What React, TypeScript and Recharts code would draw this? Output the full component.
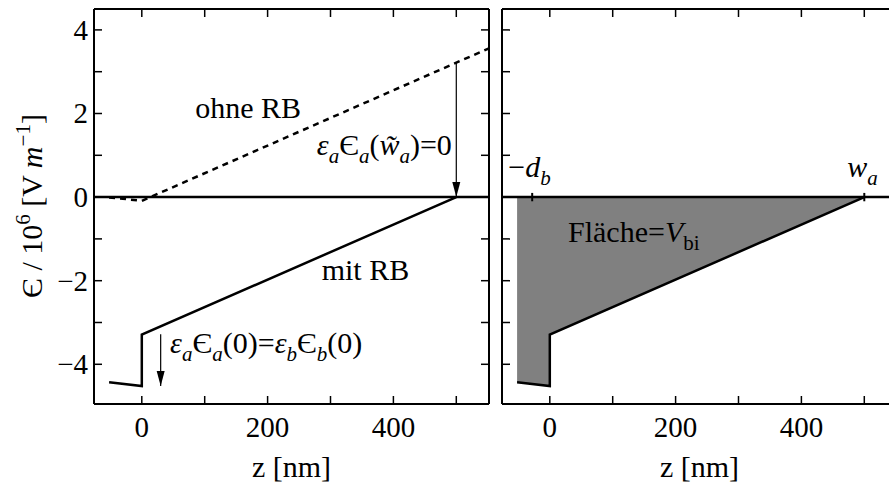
import React from 'react';
import { ComposedChart, Line, Area, XAxis, YAxis, ReferenceLine, ReferenceDot } from 'recharts';

// z in nm, field in 10^6 V/m
const ohneZ = [-52, -30, 0, 552];
const ohneE = [-0.01, -0.04, -0.09, 3.56];
const mitZ = [-52, 0, 0, 500];
const mitE = [-4.43, -4.52, -3.29, 0];

// annotation arrows
const arrowTopZ = [500, 500];
const arrowTopE = [3.23, 0];
const arrowBotZ = [30, 30];
const arrowBotE = [-3.28, -4.52];

// little tick marks on the zero line (right panel)
const dbTickZ = [-28, -28];
const dbTickE = [-0.1, 0.1];
const waTickZ = [500, 500];
const waTickE = [-0.1, 0.1];

const xTicks = [0, 100, 200, 300, 400, 500];
const xLabels = [0, 200, 400];
const yTicks = [-4, -3, -2, -1, 0, 1, 2, 3, 4];
const yLabels = [-4, -2, 0, 2, 4];

const X_DOMAIN: [number, number] = [-76, 552];
const Y_DOMAIN: [number, number] = [-4.95, 4.5];

const FONT = '"Liberation Serif", "Times New Roman", serif';

const zip = (zs: number[], es: number[]) => zs.map((z, i) => ({ z, e: es[i] }));

const ohneData = zip(ohneZ, ohneE);
const mitData = zip(mitZ, mitE);
const arrowTop = zip(arrowTopZ, arrowTopE);
const arrowBot = zip(arrowBotZ, arrowBotE);
const dbTick = zip(dbTickZ, dbTickE);
const waTick = zip(waTickZ, waTickE);

const fmt = (v: number) => (v < 0 ? `\u2212${-v}` : `${v}`);

type Seg = { t: string; it?: boolean; sub?: boolean; sup?: boolean };

const Rich = ({ x, y, segs, size, anchor = 'start', transform }: any) => {
  let shift = 0;
  const spans = (segs as Seg[]).map((s, i) => {
    const target = s.sub ? size * 0.28 : s.sup ? -size * 0.4 : 0;
    const dy = target - shift;
    shift = target;
    return (
      <tspan key={i} dy={dy} fontStyle={s.it ? 'italic' : 'normal'} fontSize={s.sub || s.sup ? size * 0.7 : size}>
        {s.t}
      </tspan>
    );
  });
  return (
    <text x={x} y={y} textAnchor={anchor} fontFamily={FONT} fontSize={size} fill="#000" transform={transform}>
      {spans}
    </text>
  );
};

const TICK = 8;

const bottomTick = (labels: boolean) => (props: any) => {
  const { x, y, payload } = props;
  return (
    <g>
      <line x1={x} y1={y} x2={x} y2={y - TICK} stroke="#000" strokeWidth={1.5} />
      {labels && xLabels.includes(payload.value) && (
        <text x={x} y={y + 33} textAnchor="middle" fontFamily={FONT} fontSize={29} fill="#000">
          {fmt(payload.value)}
        </text>
      )}
    </g>
  );
};

const topTick = (props: any) => {
  const { x, y } = props;
  return <line x1={x} y1={y} x2={x} y2={y + TICK} stroke="#000" strokeWidth={1.5} />;
};

const leftTick = (labels: boolean) => (props: any) => {
  const { x, y, payload } = props;
  return (
    <g>
      <line x1={x} y1={y} x2={x + TICK} y2={y} stroke="#000" strokeWidth={1.5} />
      {labels && yLabels.includes(payload.value) && (
        <text x={x - 6} y={y + 10} textAnchor="end" fontFamily={FONT} fontSize={29} fill="#000">
          {fmt(payload.value)}
        </text>
      )}
    </g>
  );
};

const rightTick = (props: any) => {
  const { x, y } = props;
  return <line x1={x} y1={y} x2={x - TICK} y2={y} stroke="#000" strokeWidth={1.5} />;
};

const ArrowHead = (props: any) => {
  const { cx, cy, index } = props;
  if (index !== 1) return <g key={index} />;
  return <path key={index} d={`M${cx},${cy} L${cx - 4},${cy - 15} L${cx + 4},${cy - 15} Z`} fill="#000" />;
};

const textAt = (segs: Seg[], anchor = 'start', size = 30) => (p: any) => (
  <Rich x={p.cx} y={p.cy} segs={segs} size={size} anchor={anchor} />
);

const xLabel = (p: any) => {
  const vb = p.viewBox;
  return (
    <Rich
      x={vb.x + vb.width / 2}
      y={vb.y + 73}
      anchor="middle"
      size={30}
      segs={[{ t: 'z [nm]' }]}
    />
  );
};

const yLabel = () => (
  <Rich
    x={42}
    y={206}
    anchor="middle"
    size={30}
    transform="rotate(-90 42 206)"
    segs={[{ t: 'Є / 10' }, { t: '6', sup: true }, { t: ' [V ' }, { t: 'm', it: true }, { t: '−1', sup: true }, { t: ']' }]}
  />
);

const frameAxes = (panel: 'left' | 'right') => [
  <XAxis
    key="xb"
    type="number"
    dataKey="z"
    domain={X_DOMAIN}
    ticks={xTicks}
    interval={0}
    allowDataOverflow
    height={1}
    tickSize={0}
    tickMargin={0}
    tickLine={false}
    axisLine={{ stroke: '#000', strokeWidth: 2 }}
    tick={bottomTick(true)}
    label={{ content: xLabel }}
  />,
  <XAxis
    key="xt"
    xAxisId="t"
    orientation="top"
    type="number"
    dataKey="z"
    domain={X_DOMAIN}
    ticks={xTicks}
    interval={0}
    allowDataOverflow
    height={1}
    tickSize={0}
    tickMargin={0}
    tickLine={false}
    axisLine={{ stroke: '#000', strokeWidth: 2 }}
    tick={topTick}
  />,
  <YAxis
    key="yl"
    type="number"
    domain={Y_DOMAIN}
    ticks={yTicks}
    interval={0}
    allowDataOverflow
    width={1}
    tickSize={0}
    tickMargin={0}
    tickLine={false}
    axisLine={{ stroke: '#000', strokeWidth: 2 }}
    tick={leftTick(panel === 'left')}
    label={panel === 'left' ? { content: yLabel } : undefined}
  />,
  <YAxis
    key="yr"
    yAxisId="r"
    orientation="right"
    type="number"
    domain={Y_DOMAIN}
    ticks={yTicks}
    interval={0}
    allowDataOverflow
    width={1}
    tickSize={0}
    tickMargin={0}
    tickLine={false}
    axisLine={{ stroke: '#000', strokeWidth: 2 }}
    tick={rightTick}
  />,
];

export default function App() {
  return (
    <div style={{ position: 'absolute', left: 0, top: 0, width: 889, height: 486, overflow: 'hidden', background: '#fff' }}>
      <div style={{ position: 'absolute', left: 0, top: 0 }}>
        <ComposedChart width={500} height={486} margin={{ top: 8, right: 10, bottom: 81, left: 93 }}>
          {frameAxes('left')}
          <ReferenceLine y={0} stroke="#000" strokeWidth={2.5} />
          <Line data={ohneData} dataKey="e" type="linear" stroke="#000" strokeWidth={2.5} strokeDasharray="6 5" dot={false} isAnimationActive={false} />
          <Line data={mitData} dataKey="e" type="linear" stroke="#000" strokeWidth={2.5} dot={false} isAnimationActive={false} />
          <Line data={arrowTop} dataKey="e" type="linear" stroke="#000" strokeWidth={1.2} dot={ArrowHead} isAnimationActive={false} />
          <Line data={arrowBot} dataKey="e" type="linear" stroke="#000" strokeWidth={1.2} dot={ArrowHead} isAnimationActive={false} />
          <ReferenceDot x={85} y={1.9} r={0} shape={textAt([{ t: 'ohne RB' }])} />
          <ReferenceDot
            x={493}
            y={1.01}
            r={0}
            shape={textAt(
              [{ t: 'ε', it: true }, { t: 'a', it: true, sub: true }, { t: 'Є' }, { t: 'a', it: true, sub: true }, { t: '(' }, { t: 'w\u0303', it: true }, { t: 'a', it: true, sub: true }, { t: ')=0' }],
              'end'
            )}
          />
          <ReferenceDot x={286} y={-1.98} r={0} shape={textAt([{ t: 'mit RB' }])} />
          <ReferenceDot
            x={45}
            y={-3.73}
            r={0}
            shape={textAt([
              { t: 'ε', it: true },
              { t: 'a', it: true, sub: true },
              { t: 'Є' },
              { t: 'a', it: true, sub: true },
              { t: '(0)=' },
              { t: 'ε', it: true },
              { t: 'b', it: true, sub: true },
              { t: 'Є' },
              { t: 'b', it: true, sub: true },
              { t: '(0)' },
            ])}
          />
        </ComposedChart>
      </div>
      <div style={{ position: 'absolute', left: 490, top: 0 }}>
        <ComposedChart width={420} height={486} margin={{ top: 8, right: 12, bottom: 81, left: 11 }}>
          {frameAxes('right')}
          <Area data={mitData} dataKey="e" type="linear" baseValue={0} fill="#808080" fillOpacity={1} stroke="#000" strokeWidth={2.5} isAnimationActive={false} />
          <ReferenceLine y={0} stroke="#000" strokeWidth={2.5} />
          <Line data={dbTick} dataKey="e" type="linear" stroke="#000" strokeWidth={2} dot={false} isAnimationActive={false} />
          <Line data={waTick} dataKey="e" type="linear" stroke="#000" strokeWidth={2} dot={false} isAnimationActive={false} />
          <ReferenceDot x={-66} y={0.48} r={0} shape={textAt([{ t: '−' }, { t: 'd', it: true }, { t: 'b', it: true, sub: true }])} />
          <ReferenceDot x={473} y={0.48} r={0} shape={textAt([{ t: 'w', it: true }, { t: 'a', it: true, sub: true }])} />
          <ReferenceDot x={29} y={-1.07} r={0} shape={textAt([{ t: 'Fläche=' }, { t: 'V', it: true }, { t: 'bi', sub: true }])} />
        </ComposedChart>
      </div>
    </div>
  );
}
